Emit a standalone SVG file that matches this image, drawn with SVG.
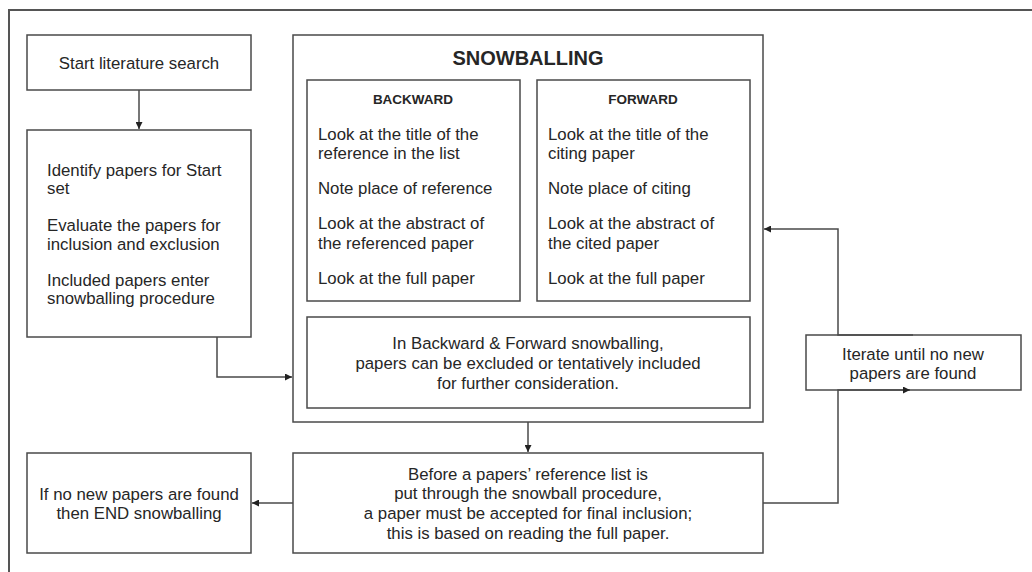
<svg xmlns="http://www.w3.org/2000/svg" width="1032" height="572" viewBox="0 0 1032 572">
<style>
.box{fill:#fff;stroke:#4a4a4a;stroke-width:1.5}
.frame{fill:none;stroke:#555;stroke-width:2}
.t{font-family:"Liberation Sans",Arial,sans-serif;font-size:16.8px;fill:#262626}
.c{text-anchor:middle}
.b{font-weight:bold}
.con{fill:none;stroke:#4a4a4a;stroke-width:1.5}
</style>
<defs>
<marker id="ah" viewBox="0 0 10 10" refX="10" refY="5" markerWidth="7" markerHeight="7" markerUnits="userSpaceOnUse" orient="auto">
<path d="M0,0 L10,5 L0,10 z" fill="#222"/>
</marker>
</defs>
<rect class="frame" x="9" y="10" width="1040" height="580"/>

<g id="start">
<rect class="box" x="27" y="35" width="224" height="55"/>
<text class="t c" x="139" y="69">Start literature search</text>
</g>

<g id="identify">
<rect class="box" x="27" y="130" width="224" height="207"/>
<text class="t" x="47" y="176">Identify papers for Start</text>
<text class="t" x="47" y="194">set</text>
<text class="t" x="47" y="231">Evaluate the papers for</text>
<text class="t" x="47" y="250">inclusion and exclusion</text>
<text class="t" x="47" y="286">Included papers enter</text>
<text class="t" x="47" y="304">snowballing procedure</text>
</g>

<g id="snowballing">
<rect class="box" x="293" y="35" width="470" height="387"/>
<text class="t c b" x="528" y="65" style="font-size:20px">SNOWBALLING</text>
</g>

<g id="backward">
<rect class="box" x="307" y="80" width="213" height="221"/>
<text class="t c b" x="413" y="104" style="font-size:13.5px">BACKWARD</text>
<text class="t" x="318" y="140">Look at the title of the</text>
<text class="t" x="318" y="159">reference in the list</text>
<text class="t" x="318" y="194">Note place of reference</text>
<text class="t" x="318" y="229">Look at the abstract of</text>
<text class="t" x="318" y="249">the referenced paper</text>
<text class="t" x="318" y="284">Look at the full paper</text>
</g>

<g id="forward">
<rect class="box" x="537" y="80" width="213" height="221"/>
<text class="t c b" x="643" y="104" style="font-size:13.5px">FORWARD</text>
<text class="t" x="548" y="140">Look at the title of the</text>
<text class="t" x="548" y="159">citing paper</text>
<text class="t" x="548" y="194">Note place of citing</text>
<text class="t" x="548" y="229">Look at the abstract of</text>
<text class="t" x="548" y="249">the cited paper</text>
<text class="t" x="548" y="284">Look at the full paper</text>
</g>

<g id="inclusion">
<rect class="box" x="307" y="317" width="443" height="91"/>
<text class="t c" x="528" y="349">In Backward &amp; Forward snowballing,</text>
<text class="t c" x="528" y="369">papers can be excluded or tentatively included</text>
<text class="t c" x="528" y="389">for further consideration.</text>
</g>

<g id="before">
<rect class="box" x="293" y="453" width="470" height="100"/>
<text class="t c" x="528" y="480">Before a papers’ reference list is</text>
<text class="t c" x="528" y="499">put through the snowball procedure,</text>
<text class="t c" x="528" y="519">a paper must be accepted for final inclusion;</text>
<text class="t c" x="528" y="539">this is based on reading the full paper.</text>
</g>

<g id="end">
<rect class="box" x="27" y="453" width="224" height="100"/>
<text class="t c" x="139" y="500">If no new papers are found</text>
<text class="t c" x="139" y="519">then END snowballing</text>
</g>

<g id="iterate">
<rect class="box" x="806" y="335" width="215" height="55"/>
<text class="t c" x="913" y="360">Iterate until no new</text>
<text class="t c" x="913" y="379">papers are found</text>
</g>

<g id="connectors">
<path class="con" d="M139,90 V129" marker-end="url(#ah)"/>
<path class="con" d="M217,337 V377 H292" marker-end="url(#ah)"/>
<path class="con" d="M528,422 V452" marker-end="url(#ah)"/>
<path class="con" d="M293,503 H252" marker-end="url(#ah)"/>
<path class="con" d="M763,503 H838 V390 H910" marker-end="url(#ah)"/>
<path class="con" d="M913,335 H838 V229 H764" marker-end="url(#ah)"/>
</g>
</svg>
